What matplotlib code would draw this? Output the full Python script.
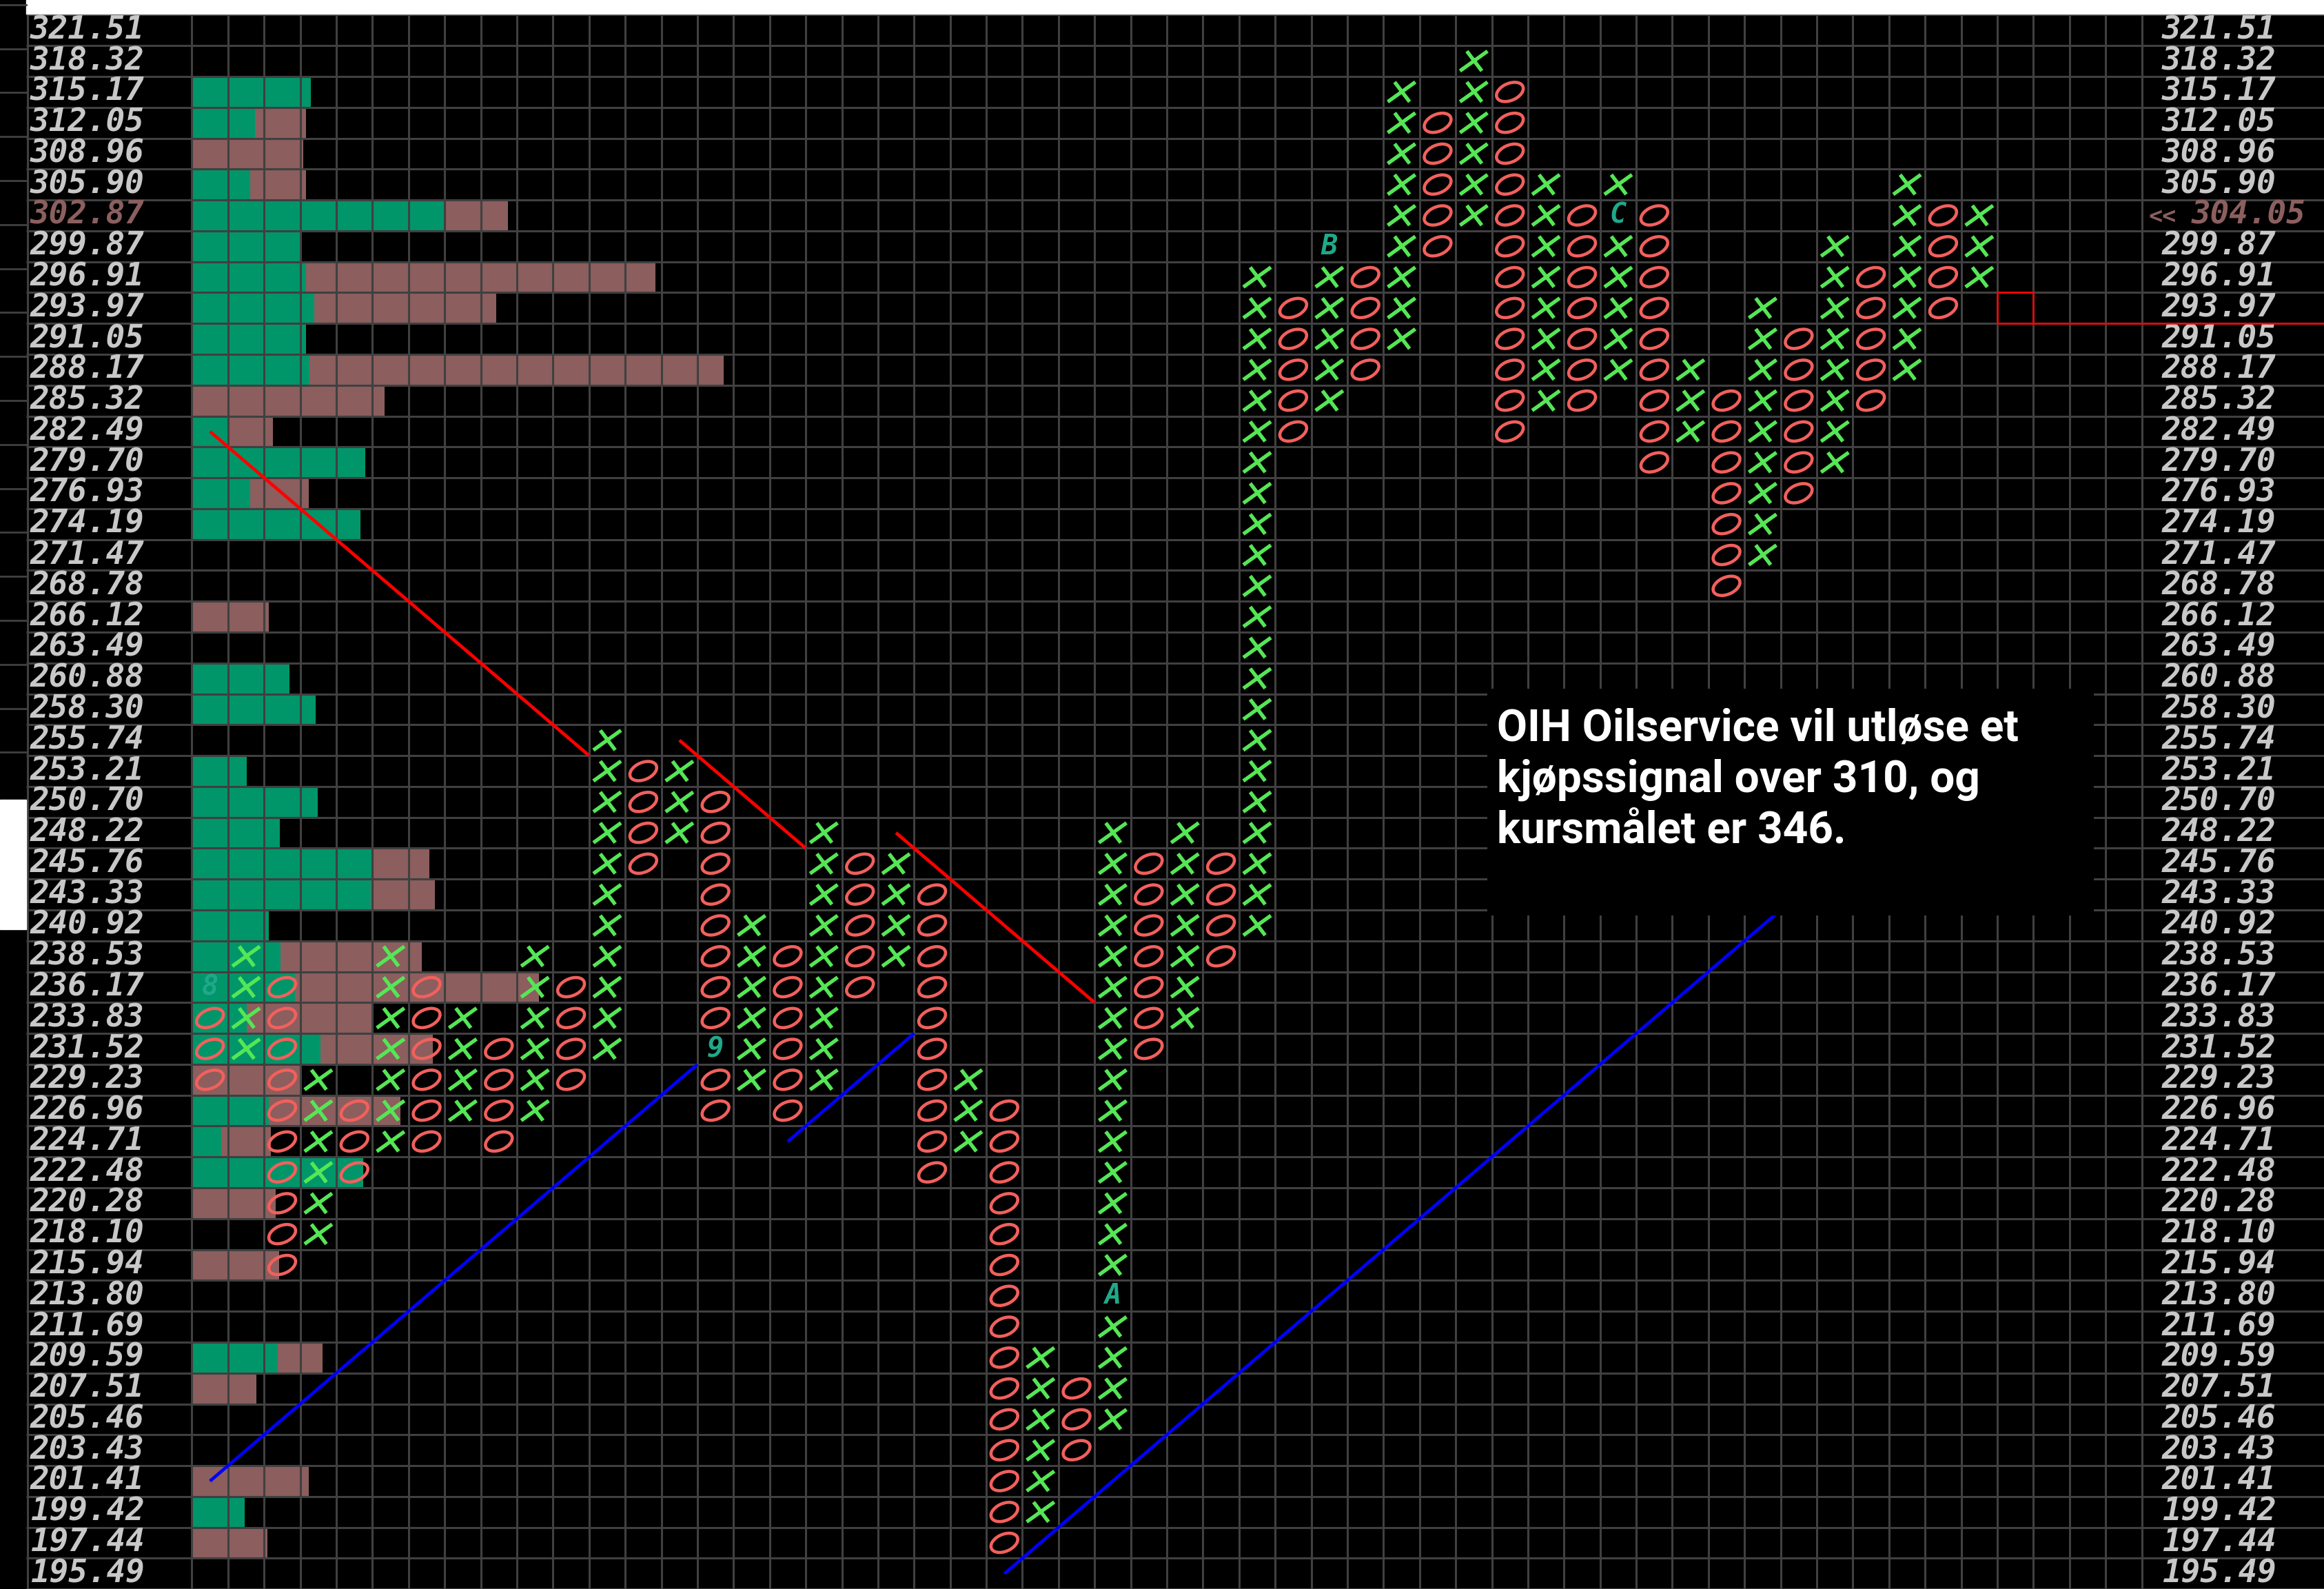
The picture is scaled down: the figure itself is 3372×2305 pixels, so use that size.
import numpy as np
import matplotlib
matplotlib.use("Agg")
import matplotlib.pyplot as plt
from matplotlib.path import Path
from matplotlib.patches import Rectangle
from matplotlib.lines import Line2D
from matplotlib.transforms import Affine2D

# ---- data --------------------------------------------------------------
LEVELS = ["321.51", "318.32", "315.17", "312.05", "308.96", "305.90", "302.87",
          "299.87", "296.91", "293.97", "291.05", "288.17", "285.32", "282.49",
          "279.70", "276.93", "274.19", "271.47", "268.78", "266.12", "263.49",
          "260.88", "258.30", "255.74", "253.21", "250.70", "248.22", "245.76",
          "243.33", "240.92", "238.53", "236.17", "233.83", "231.52", "229.23",
          "226.96", "224.71", "222.48", "220.28", "218.10", "215.94", "213.80",
          "211.69", "209.59", "207.51", "205.46", "203.43", "201.41", "199.42",
          "197.44", "195.49"]

# point & figure columns: (kind, top box, bottom box)
COLUMNS = [
    ("O", "236.17", "229.23"), ("X", "238.53", "231.52"), ("O", "236.17", "215.94"),
    ("X", "229.23", "218.10"), ("O", "226.96", "222.48"), ("X", "238.53", "224.71"),
    ("O", "236.17", "224.71"), ("X", "233.83", "226.96"), ("O", "231.52", "224.71"),
    ("X", "238.53", "226.96"), ("O", "236.17", "229.23"), ("X", "255.74", "231.52"),
    ("O", "253.21", "245.76"), ("X", "253.21", "248.22"), ("O", "250.70", "226.96"),
    ("X", "240.92", "229.23"), ("O", "238.53", "226.96"), ("X", "248.22", "229.23"),
    ("O", "245.76", "236.17"), ("X", "245.76", "238.53"), ("O", "243.33", "222.48"),
    ("X", "229.23", "224.71"), ("O", "226.96", "197.44"), ("X", "209.59", "199.42"),
    ("O", "207.51", "203.43"), ("X", "248.22", "205.46"), ("O", "245.76", "231.52"),
    ("X", "248.22", "233.83"), ("O", "245.76", "238.53"), ("X", "296.91", "240.92"),
    ("O", "293.97", "282.49"), ("X", "299.87", "285.32"), ("O", "296.91", "288.17"),
    ("X", "315.17", "291.05"), ("O", "312.05", "299.87"), ("X", "318.32", "302.87"),
    ("O", "315.17", "282.49"), ("X", "305.90", "285.32"), ("O", "302.87", "285.32"),
    ("X", "305.90", "288.17"), ("O", "302.87", "279.70"), ("X", "288.17", "282.49"),
    ("O", "285.32", "268.78"), ("X", "293.97", "271.47"), ("O", "291.05", "276.93"),
    ("X", "299.87", "279.70"), ("O", "296.91", "285.32"), ("X", "305.90", "288.17"),
    ("O", "302.87", "293.97"), ("X", "302.87", "296.91"),
]

# month codes that replace a box: (label, column, box)
MONTHS = [("8", 0, "236.17"), ("9", 14, "231.52"), ("A", 25, "213.80"),
          ("B", 31, "299.87"), ("C", 39, "302.87")]

# volume-at-price profile, one value per level (in box widths)
BAR_GREEN = [0, 0, 3.29, 1.74, 0, 1.61, 6.98, 2.99, 3.16, 3.39, 3.16, 3.25, 0,
             0.98, 4.80, 1.61, 4.67, 0, 0, 0, 0, 2.71, 3.43, 0, 1.52, 3.49, 2.43,
             5.02, 4.95, 2.12, 2.45, 2.85, 1.51, 3.56, 0, 2.12, 0.82, 4.75, 0, 0,
             0, 0, 0, 2.38, 0, 0, 0, 0, 1.46, 0, 0]
BAR_BROWN = [0, 0, 0, 1.42, 3.09, 1.55, 1.78, 0, 9.67, 5.03, 0, 11.48, 5.33,
             1.27, 0, 1.63, 0, 0, 0, 2.12, 0, 0, 0, 0, 0, 0, 0, 1.56, 1.77, 0,
             3.92, 6.76, 3.46, 3.11, 3.01, 3.65, 1.36, 0, 2.32, 0, 2.42, 0, 0,
             1.23, 1.78, 0, 0, 3.23, 0, 2.09, 0]

LAST_PRICE = "304.05"
LAST_LEVEL = "302.87"
SIGNAL_COL, SIGNAL_LEVEL = 50, "293.97"

# trend lines in (column, row) grid units
RED_TRENDS = [((0.5, 13.5), (11.0, 24.0)), ((13.5, 23.5), (17.0, 27.0)),
              ((19.5, 26.5), (25.0, 32.0))]
BLUE_TRENDS = [((0.5, 47.5), (14.0, 34.0)), ((16.5, 36.5), (20.0, 33.0)),
               ((22.5, 50.5), (46.0, 27.0))]

NOTE = "OIH Oilservice vil utløse et\nkjøpssignal over 310, og\nkursmålet er 346."

# ---- layout (pixels of the 3373x2305 canvas) ----------------------------
W, H = 3373, 2305
X0, CW = 278.5, 52.39       # left edge of first column, column width
Y0, RH = 21.4, 44.78        # top grid line, row height
NCOL, NROW = 54, len(LEVELS)
PANEL_L = 38

BG = "black"
GRID = "#404040"
X_COL = "#55E655"
O_COL = "#F2605C"
MONTH_COL = "#20A88A"
BAR_G = "#00966A"
BAR_B = "#8C5E5E"
LABEL = "#C8C8C8"
LAST_COL = "#8C5F5F"

fig = plt.figure(figsize=(W / 100, H / 100), dpi=100)
fig.patch.set_facecolor(BG)
ax = fig.add_axes([PANEL_L / W, 0, 1 - PANEL_L / W, 1])
ax.set_facecolor(BG)
xmin, xmax = -(X0 - PANEL_L) / CW, (W - X0) / CW
ax.set_xlim(xmin, xmax)
ax.set_ylim((H - Y0) / RH, -Y0 / RH)
ax.axis("off")

row = {p: i for i, p in enumerate(LEVELS)}
rows = np.arange(NROW) + 0.5

# profile bars
green = np.array(BAR_GREEN)
brown = np.array(BAR_BROWN)
ax.barh(rows, green, height=1.0, left=0, color=BAR_G, lw=0, zorder=1)
ax.barh(rows, brown, height=1.0, left=green, color=BAR_B, lw=0, zorder=1)

# grid
ax.hlines(np.arange(NROW + 1), xmin, xmax, colors=GRID, lw=2.2, zorder=2)
ax.vlines(np.arange(NCOL + 1), 0, NROW, colors=GRID, lw=2.2, zorder=2)
ax.vlines(-(X0 - 40.5) / CW, 0, NROW, colors=GRID, lw=2.2, zorder=2)

# trend lines
for (a, b) in RED_TRENDS:
    ax.plot([a[0], b[0]], [a[1], b[1]], color="#FF0000", lw=3.4, zorder=3,
            solid_capstyle="butt")
for (a, b) in BLUE_TRENDS:
    ax.plot([a[0], b[0]], [a[1], b[1]], color="#0000FF", lw=3.4, zorder=3,
            solid_capstyle="butt")

# X / O boxes
month_at = {(c, row[p]): m for m, c, p in MONTHS}
xs, os_ = [], []
for c, (kind, top, bot) in enumerate(COLUMNS):
    for r in range(row[top], row[bot] + 1):
        if (c, r) in month_at:
            continue
        (xs if kind == "X" else os_).append((c + 0.5, r + 0.5))
xs, os_ = np.array(xs), np.array(os_)

X_PATH = Path([(-60, -43), (60, 43), (-30, 43), (35, -43)],
              [Path.MOVETO, Path.LINETO, Path.MOVETO, Path.LINETO])
O_PATH = Affine2D().scale(1.3, 1.0).skew(np.arctan(0.5), 0).transform_path(Path.unit_circle())

ax.scatter(xs[:, 0], xs[:, 1], marker=X_PATH, s=830, facecolors="none",
           edgecolors=X_COL, linewidths=3.9, zorder=4)
ax.scatter(os_[:, 0], os_[:, 1], marker=O_PATH, s=830, facecolors="none",
           edgecolors=O_COL, linewidths=3.3, zorder=4)

mono = dict(family="DejaVu Sans Mono", style="oblique", weight="bold")
for m, c, p in MONTHS:
    ax.text(c + 0.5, row[p] + 0.5, m, color=MONTH_COL, fontsize=29, ha="center",
            va="center", zorder=4, **mono)

# price scales
LSIZE = 33
lx = (44 - X0) / CW
rx = (3137 - X0) / CW
for r, lab in enumerate(LEVELS):
    col = LAST_COL if lab == LAST_LEVEL else LABEL
    ax.text(lx, r + 0.5, lab, color=col, fontsize=LSIZE, ha="left", va="center",
            zorder=5, **mono)
    if lab == LAST_LEVEL:
        ax.text((3118 - X0) / CW, r + 0.55, "<<", color=LAST_COL, fontsize=24,
                ha="left", va="center", zorder=5, **mono)
        ax.text((3180 - X0) / CW, r + 0.5, LAST_PRICE, color=LAST_COL,
                fontsize=LSIZE, ha="left", va="center", zorder=5, **mono)
    else:
        ax.text(rx, r + 0.5, lab, color=col, fontsize=LSIZE, ha="left",
                va="center", zorder=5, **mono)

# signal box + line
sr = row[SIGNAL_LEVEL]
ax.add_patch(Rectangle((SIGNAL_COL, sr), 1, 1, fill=False, ec="#FF0000", lw=1.8, zorder=5))
ax.plot([SIGNAL_COL + 1, xmax], [sr + 1, sr + 1], color="#FF0000", lw=1.8, zorder=5)

# comment box (multi-line baseline alignment sits on the last line)
ax.add_patch(Rectangle((35.87, 21.84), 16.8, 7.33, fc="black", ec="none", zorder=6))
ax.text(36.15, 26.83, NOTE, color="white", fontsize=46, family="Roboto",
        weight="bold", ha="left", va="baseline", linespacing=1.27, zorder=7)

# window chrome: top strip, left strip ticks and patch
fig.add_artist(Rectangle((PANEL_L / W, 1 - 19.5 / H), 1 - PANEL_L / W, 19.5 / H,
                         transform=fig.transFigure, color="white", zorder=10))
fig.add_artist(Rectangle((0, 1 - 1348 / H), PANEL_L / W, (1348 - 1160) / H,
                         transform=fig.transFigure, color="white", zorder=10))
for k in range(18):
    y = 1 - (6.7 + 63.8 * k) / H
    fig.add_artist(Line2D([0, PANEL_L / W], [y, y], transform=fig.transFigure,
                          color=GRID, lw=2.0, zorder=10))

fig.savefig("out.png", dpi=100, facecolor=BG)
